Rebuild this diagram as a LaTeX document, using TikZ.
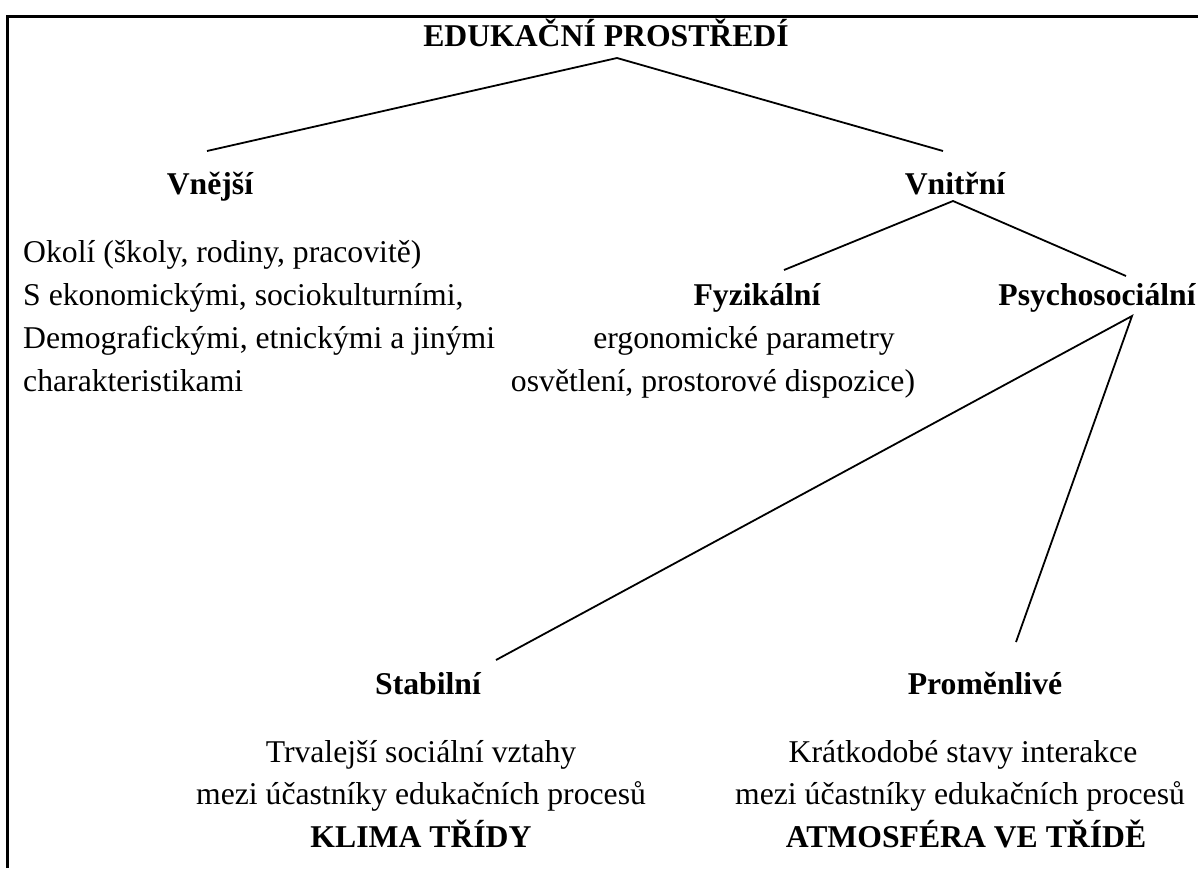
\documentclass[tikz,border=0pt]{standalone}
\usepackage{fontspec}
\setmainfont{Liberation Serif}
\begin{document}
\begin{tikzpicture}[x=1pt,y=-1pt,
  txt/.style={inner sep=0pt,anchor=base,font=\fontsize{31.7}{38}\selectfont},
  hd/.style={txt,font=\fontsize{31.7}{38}\selectfont\bfseries},
  lft/.style={txt,anchor=base west},
  conn/.style={line width=1.8pt},
  frame/.style={line width=3pt}]
\useasboundingbox (0,0) rectangle (1198,868);
% frame (open on right and bottom)
\coordinate (f1) at (7,868);
\coordinate (f2) at (7,16);
\coordinate (f3) at (1198,16);
\draw[frame] (f1) -- (f2) -- (f3);
% title
\node[hd] (title) at (606,46) {EDUKAČNÍ PROSTŘEDÍ};
\node[hd] (vnejsi) at (210,194) {Vnější};
\node[hd] (vnitrni) at (955,194) {Vnitřní};
% left block
\node[lft] (l1) at (23,262) {Okolí (školy, rodiny, pracovitě)};
\node[lft] (l2) at (23,305) {S ekonomickými, sociokulturními,};
\node[lft] (l3) at (23,348) {Demografickými, etnickými a jinými};
\node[lft] (l4) at (23,391) {charakteristikami};
% inner branches
\node[hd] (fyz) at (757,305) {Fyzikální};
\node[hd] (psy) at (1097,305) {Psychosociální};
\node[txt] (f1t) at (744,348) {ergonomické parametry};
\node[txt] (f2t) at (713,391) {osvětlení, prostorové dispozice)};
% bottom
\node[hd] (stab) at (428,694) {Stabilní};
\node[hd] (prom) at (985,694) {Proměnlivé};
\node[txt] (s1) at (421,762) {Trvalejší sociální vztahy};
\node[txt] (s2) at (421,804) {mezi účastníky edukačních procesů};
\node[hd] (s3) at (421,847) {KLIMA TŘÍDY};
\node[txt] (p1) at (963,762) {Krátkodobé stavy interakce};
\node[txt] (p2) at (960,804) {mezi účastníky edukačních procesů};
\node[hd] (p3) at (966,847) {ATMOSFÉRA VE TŘÍDĚ};
% connector points
\coordinate (tj) at (617,58);
\coordinate (vl) at (207,151);
\coordinate (vr) at (943,151);
\coordinate (ij) at (953,201);
\coordinate (il) at (784,270);
\coordinate (ir) at (1126,276);
\coordinate (pj) at (1132,316);
\coordinate (pl) at (496,660);
\coordinate (pr) at (1016,642);
\draw[conn] (vl) -- (tj) -- (vr);
\draw[conn] (il) -- (ij) -- (ir);
\draw[conn] (pl) -- (pj) -- (pr);
\end{tikzpicture}
\end{document}
